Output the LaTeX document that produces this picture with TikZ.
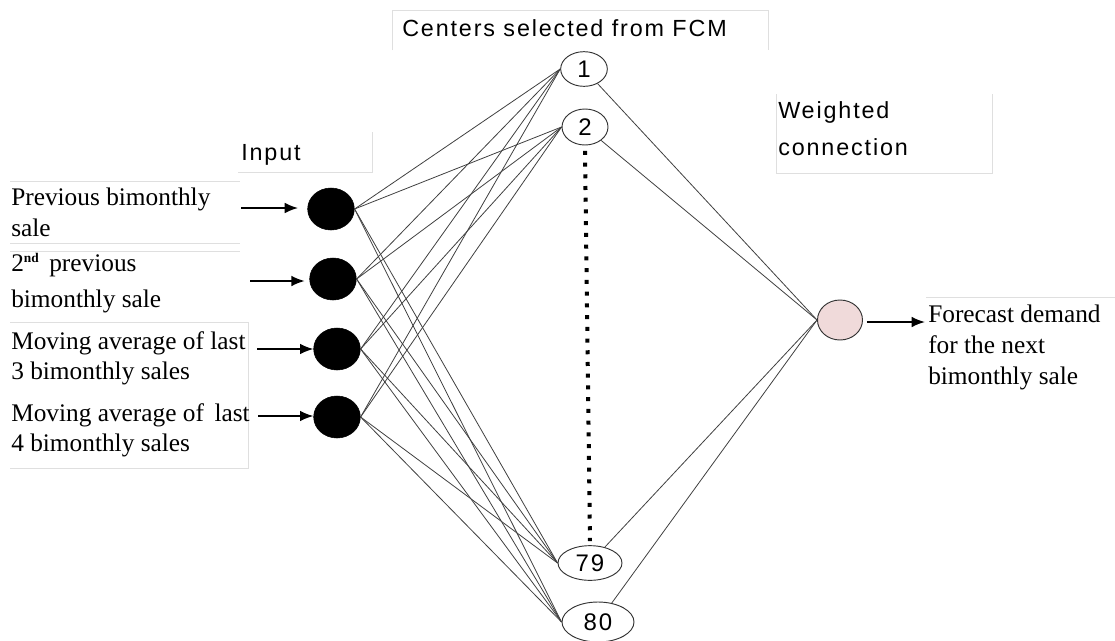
\documentclass[tikz,border=0pt]{standalone}
\usepackage{fontspec}
\setmainfont{Liberation Serif}
\newfontfamily\labelfont{Liberation Sans}[LetterSpace=8]
\usetikzlibrary{arrows.meta,shapes.geometric}

\begin{document}
\begin{tikzpicture}[x=0.75pt,y=-0.75pt,
  innode/.style={ellipse, fill=black, draw=black, minimum width=35pt, minimum height=31.5pt, inner sep=0pt},
  hidnode/.style={ellipse, draw=black!80, line width=0.7pt, inner sep=0pt, font=\labelfont\fontsize{18}{18}\selectfont},
  outnode/.style={ellipse, draw=black!80, line width=0.7pt, fill={rgb,255:red,240;green,218;blue,218}, minimum width=33.75pt, minimum height=30pt, inner sep=0pt},
  link/.style={black!75, line width=0.6pt},
  feed/.style={-{Latex[length=10pt,width=8pt]}, line width=1.3pt},
  sidetext/.style={align=left, anchor=north west, inner sep=0pt, font=\fontsize{19}{23}\selectfont},
  headtext/.style={align=left, anchor=north west, inner sep=0pt, font=\labelfont\fontsize{17.5}{27.75}\selectfont},
  faint/.style={gray!25, line width=0.6pt}]

  \useasboundingbox (0,0) rectangle (1115,640);

  % --- faint text box edges ---
  \draw[faint] (392,50) -- (392,10) -- (768,10) -- (768,50);
  \draw[faint] (238,172) -- (372,172) -- (372,132);
  \draw[faint] (776,94) -- (776,173) -- (992,173) -- (992,94);
  \draw[faint] (10,181) -- (240,181);
  \draw[faint] (10,243) -- (240,243);
  \draw[faint] (10,251) -- (240,251);
  \draw[faint] (10,322) -- (248,322) -- (248,468) -- (10,468);
  \draw[faint] (926,297) -- (1115,297);

  % --- Input layer ---
  \node[innode] (i1) at (331,209) {};
  \node[innode] (i2) at (333,279) {};
  \node[innode] (i3) at (337,349) {};
  \node[innode] (i4) at (337,417) {};

  % --- Centers ---
  \node[hidnode, minimum width=35pt, minimum height=26pt] (h1) at (584,69) {1};
  \node[hidnode, minimum width=34.5pt, minimum height=27pt] (h2) at (585,127) {2};
  \node[hidnode, minimum width=48pt, minimum height=26pt] (h79) at (590,563) {79};
  \node[hidnode, minimum width=54pt, minimum height=30pt] (h80) at (598,622) {80};

  % --- Output ---
  \node[outnode] (out) at (840,320) {};

  % --- Labels ---
  \node[headtext] (tcent) at (402,19) {Centers selected from FCM};
  \node[headtext] (tin) at (241,144) {Input};
  \node[headtext] (tweight) at (778,101) {Weighted\\connection};

  \node[sidetext] (t1) at (11,188) {Previous bimonthly\\sale};
  \node[sidetext] (t2) at (11,253) {2\raisebox{0.36em}{\fontsize{10}{10}\selectfont\bfseries nd}\ \,previous\\[4pt]bimonthly sale};
  \node[sidetext] (t3) at (11,331) {Moving average of last\\3 bimonthly sales};
  \node[sidetext] (t4) at (11,403) {Moving average of\, last\\4 bimonthly sales};
  \node[sidetext] (tout) at (928,305) {Forecast demand\\for the next\\bimonthly sale};

  % --- Arrow ends ---
  \coordinate (a1) at (241,208);
  \coordinate (a2) at (250,281);
  \coordinate (a3) at (257,349);
  \coordinate (a4) at (258,416);
  \coordinate (aout) at (925,322);

  % --- Input arrows ---
  \draw[feed, shorten >=7pt] (a1) -- (a1 -| i1.west);
  \draw[feed, shorten >=3.5pt] (a2) -- (a2 -| i2.west);
  \draw[feed] (a3) -- (a3 -| i3.west);
  \draw[feed] (a4) -- (a4 -| i4.west);
  \draw[feed, shorten <=3pt] (aout -| out.east) -- (aout);

  % --- Connections input -> centers ---
  \foreach \i in {i1,i2,i3,i4}
    \foreach \h in {h1,h2,h79,h80}
      \draw[link] (\i.east) -- (\h.west);

  % --- Weighted connections ---
  \foreach \h in {h1,h2,h79,h80}
    \draw[link] (\h) -- (out.west);

  % --- skipped centers ---
  \draw[line width=3pt, dash pattern=on 3pt off 5.8pt] ([yshift=-4pt]h2.south) -- ([yshift=3pt]h79.north);

\end{tikzpicture}
\end{document}
